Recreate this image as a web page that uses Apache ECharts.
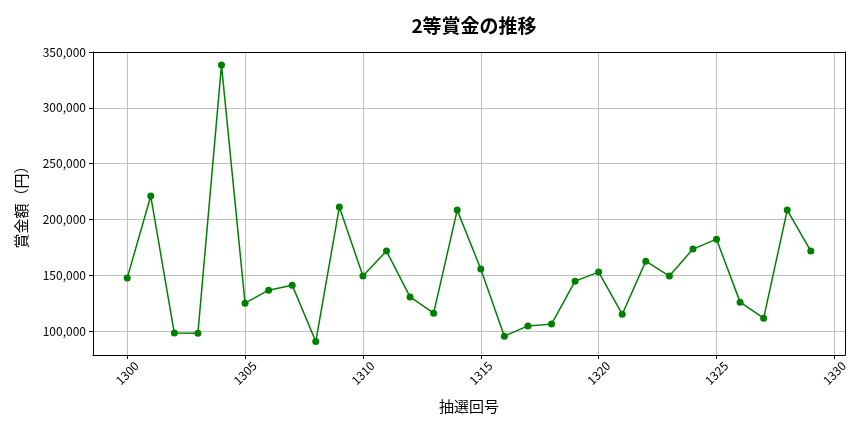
<!DOCTYPE html>
<html>
<head>
<meta charset="utf-8">
<script src="https://cdn.jsdelivr.net/npm/echarts@6/dist/echarts.min.js"></script>
<style>html,body{margin:0;padding:0;background:#fff;}#c{width:864px;height:432px;}</style>
</head>
<body>
<div id="c"></div>
<script>
const draws = [1300,1301,1302,1303,1304,1305,1306,1307,1308,1309,1310,1311,1312,1313,1314,1315,1316,1317,1318,1319,1320,1321,1322,1323,1324,1325,1326,1327,1328,1329];
const prizes = [147500,221000,98300,98100,338300,125100,136700,141200,90700,211100,149300,171700,130700,116100,208400,155600,95500,104700,106300,144800,152900,115200,162700,149300,173500,182400,126000,111600,208400,171700];
const titleText = '2等賞金の推移';
const xName = '抽選回号';
const yName = '賞金額（円）';

const FONT = '"Noto Sans CJK JP", "Noto Sans", sans-serif';
const chart = echarts.init(document.getElementById('c'), null, {renderer: 'canvas'});
const data = draws.map((d, i) => [d, prizes[i]]);
const XMIN = 1298.55, XMAX = 1330.45, YMIN = 78650, YMAX = 350000;
chart.setOption({
  animation: false,
  backgroundColor: '#fff',
  title: {
    text: titleText, left: 469, top: 11, textAlign: 'center',
    textStyle: {fontFamily: FONT, fontSize: 19, fontWeight: 'bold', color: '#000'}
  },
  grid: {left: 93, right: 19, top: 52, bottom: 77, containLabel: false},
  xAxis: [{
    type: 'value', min: XMIN, max: XMAX, splitNumber: 6,
    name: xName, nameLocation: 'middle', nameGap: 44,
    nameTextStyle: {fontFamily: FONT, fontSize: 15, color: '#000'},
    axisLine: {show: true, onZero: false, lineStyle: {color: '#000', width: 1}},
    axisTick: {show: true, length: 4, lineStyle: {color: '#000'}},
    axisLabel: {fontFamily: FONT, fontSize: 12, color: '#000', rotate: 45, align: 'center', verticalAlign: 'middle', margin: 18, showMinLabel: false, showMaxLabel: false,
      formatter: v => String(v)},
    splitLine: {show: true, lineStyle: {color: '#b0b0b0', width: 0.8}}
  }, {
    type: 'value', position: 'top', min: XMIN, max: XMAX,
    axisLine: {show: true, onZero: false, lineStyle: {color: '#000'}}, axisTick: {show: false}, axisLabel: {show: false}, splitLine: {show: false}
  }],
  yAxis: [{
    type: 'value', min: YMIN, max: YMAX, splitNumber: 5,
    name: yName, nameLocation: 'middle', nameGap: 64, nameRotate: 90,
    nameTextStyle: {fontFamily: FONT, fontSize: 15, color: '#000'},
    axisLine: {show: true, onZero: false, lineStyle: {color: '#000', width: 1}},
    axisTick: {show: true, length: 4, lineStyle: {color: '#000'}},
    axisLabel: {fontFamily: FONT, fontSize: 12, color: '#000', margin: 7, showMinLabel: false,
      formatter: v => v.toLocaleString('en-US')},
    splitLine: {show: true, lineStyle: {color: '#b0b0b0', width: 0.8}}
  }, {
    type: 'value', position: 'right', min: YMIN, max: YMAX,
    axisLine: {show: true, onZero: false, lineStyle: {color: '#000'}}, axisTick: {show: false}, axisLabel: {show: false}, splitLine: {show: false}
  }],
  series: [{
    type: 'line', data: data, xAxisIndex: 0, yAxisIndex: 0,
    symbol: 'circle', symbolSize: 7,
    lineStyle: {color: '#008000', width: 1.5},
    itemStyle: {color: '#008000'}
  }]
});
</script>
</body>
</html>
